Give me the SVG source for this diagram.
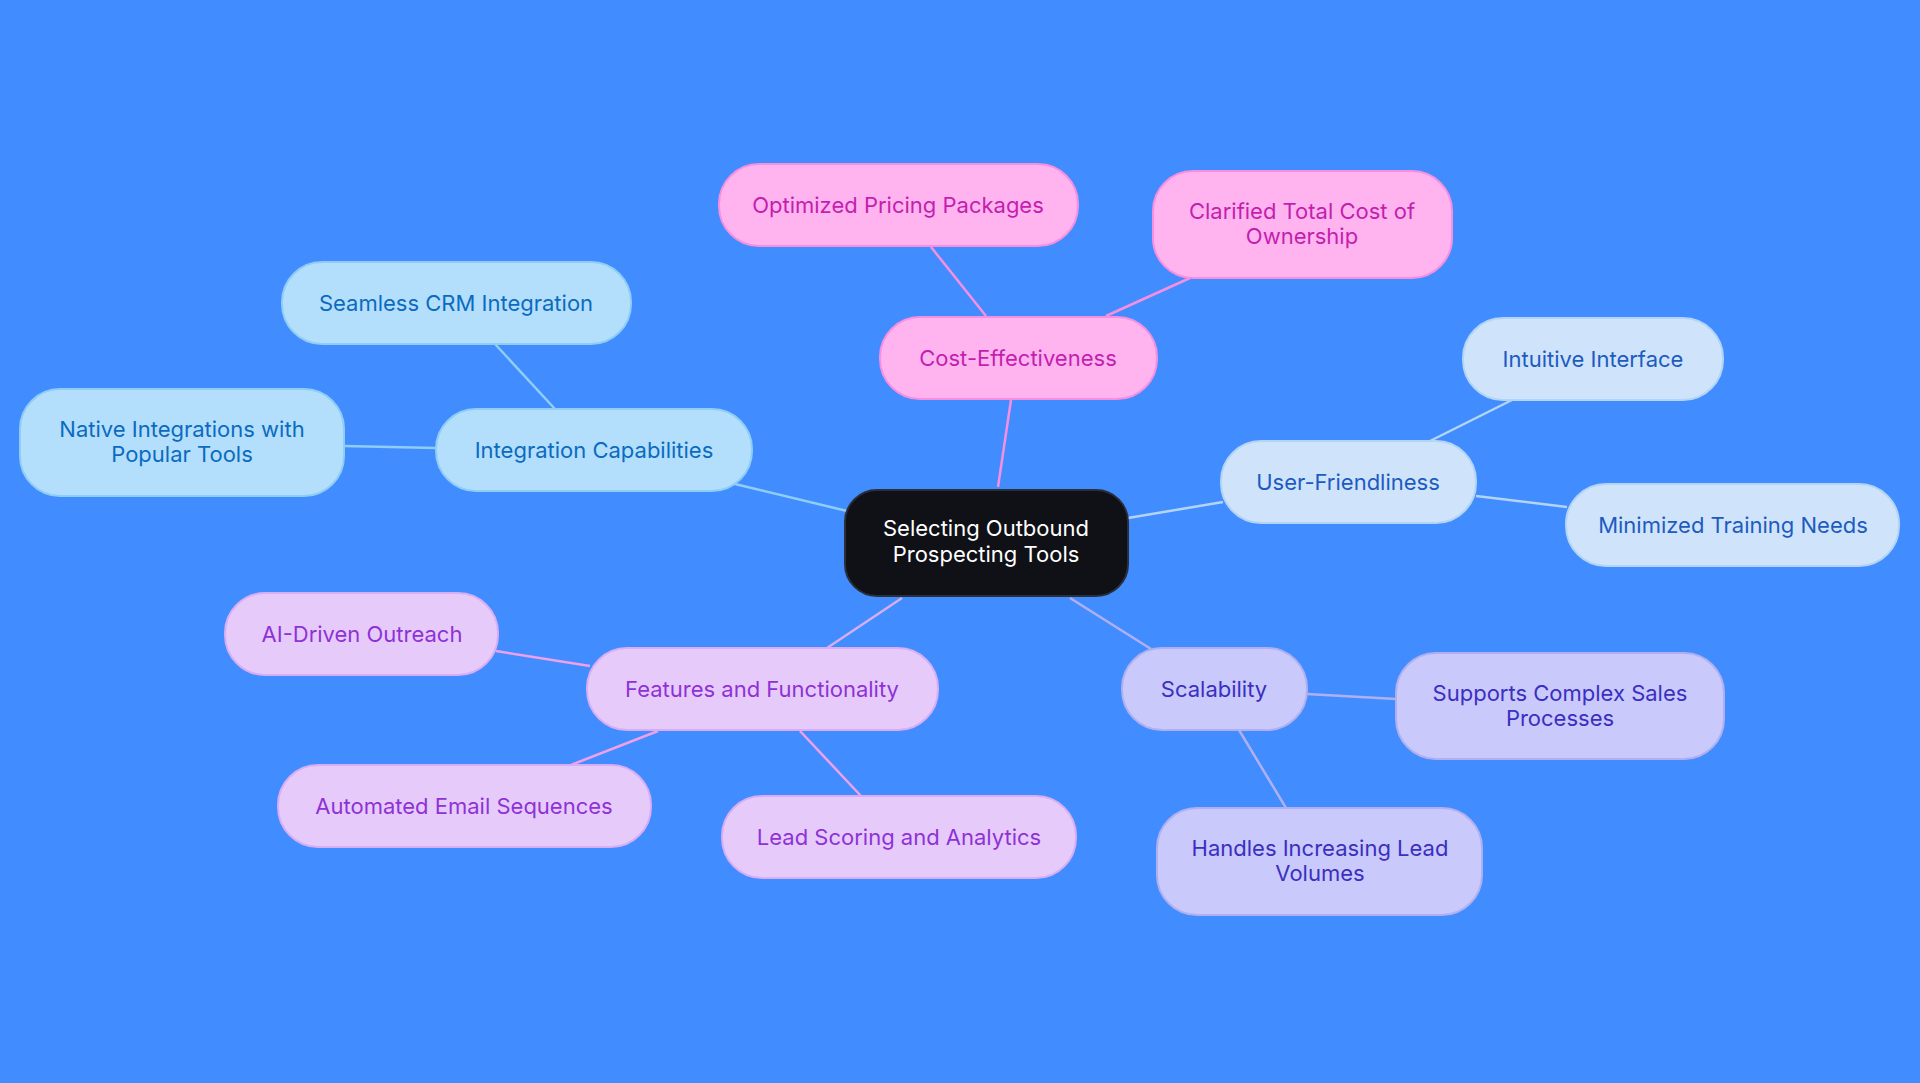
<svg xmlns="http://www.w3.org/2000/svg" width="1920" height="1083" viewBox="0 0 1920 1083">
<style>
text{font-family:Inter,"Noto Sans","Liberation Sans",sans-serif;font-size:22px;text-anchor:middle;dominant-baseline:central}
.pk rect{fill:#ffb3ef;stroke:#f78fe0;stroke-width:2}.pk text{fill:#c31fae}
.bl rect{fill:#b3dffc;stroke:#90cdf4;stroke-width:2}.bl text{fill:#0b6bbf}
.lb rect{fill:#cfe4fb;stroke:#b3d4f5;stroke-width:2}.lb text{fill:#1d5bbf}
.vi rect{fill:#c9c9fb;stroke:#b0b0f0;stroke-width:2}.vi text{fill:#3a2fbf}
.pu rect{fill:#e6cbfa;stroke:#d7aef5;stroke-width:2}.pu text{fill:#8e32d6}
.e line{stroke-width:2.5}
</style>
<rect width="1920" height="1083" fill="#418cff"/>
<g id="connectors" class="e">
<line x1="998" y1="487" x2="1011" y2="400" stroke="#f78fe0"/>
<line x1="986" y1="316" x2="931" y2="247" stroke="#f78fe0"/>
<line x1="1106" y1="316" x2="1190" y2="278" stroke="#f78fe0"/>
<line x1="847" y1="511" x2="735" y2="484" stroke="#90cdf4"/>
<line x1="555" y1="409" x2="495" y2="344" stroke="#90cdf4"/>
<line x1="436" y1="448" x2="344" y2="446" stroke="#90cdf4"/>
<line x1="1128" y1="518" x2="1223" y2="502" stroke="#b3d4f5"/>
<line x1="1430" y1="441" x2="1512" y2="400" stroke="#b3d4f5"/>
<line x1="1476" y1="496" x2="1567" y2="507" stroke="#b3d4f5"/>
<line x1="1070" y1="598" x2="1151" y2="649" stroke="#b0b0f0"/>
<line x1="1307" y1="694" x2="1396" y2="699" stroke="#b0b0f0"/>
<line x1="1239" y1="730" x2="1286" y2="808" stroke="#b0b0f0"/>
<line x1="902" y1="598" x2="827" y2="648" stroke="#d7aef5"/>
<line x1="590" y1="666" x2="496" y2="651" stroke="#f0a0e8"/>
<line x1="658" y1="731" x2="571" y2="765" stroke="#f0a0e8"/>
<line x1="800" y1="731" x2="861" y2="796" stroke="#f0a0e8"/>
</g>
<g id="center"><rect x="845" y="490" width="283" height="106" rx="32" fill="#0f1117" stroke="#2a2f3a" stroke-width="2"/><text x="986" y="528" fill="#fff">Selecting Outbound</text><text x="986" y="554" fill="#fff">Prospecting Tools</text></g>
<g id="cost" class="pk"><rect x="880" y="317" width="277" height="82" rx="40"/><text x="1018" y="358">Cost-Effectiveness</text></g>
<g id="opt" class="pk"><rect x="719" y="164" width="359" height="82" rx="40"/><text x="898" y="205">Optimized Pricing Packages</text></g>
<g id="clar" class="pk"><rect x="1153" y="171" width="299" height="107" rx="40"/><text x="1302" y="211">Clarified Total Cost of</text><text x="1302" y="236">Ownership</text></g>
<g id="integ" class="bl"><rect x="436" y="409" width="316" height="82" rx="40"/><text x="594" y="450">Integration Capabilities</text></g>
<g id="seamless" class="bl"><rect x="282" y="262" width="349" height="82" rx="40"/><text x="456" y="303">Seamless CRM Integration</text></g>
<g id="native" class="bl"><rect x="20" y="389" width="324" height="107" rx="40"/><text x="182" y="429">Native Integrations with</text><text x="182" y="454">Popular Tools</text></g>
<g id="user" class="lb"><rect x="1221" y="441" width="255" height="82" rx="40"/><text x="1348" y="482">User-Friendliness</text></g>
<g id="intuitive" class="lb"><rect x="1463" y="318" width="260" height="82" rx="40"/><text x="1593" y="359">Intuitive Interface</text></g>
<g id="minimized" class="lb"><rect x="1566" y="484" width="333" height="82" rx="40"/><text x="1733" y="525">Minimized Training Needs</text></g>
<g id="scal" class="vi"><rect x="1122" y="648" width="185" height="82" rx="40"/><text x="1214" y="689">Scalability</text></g>
<g id="supports" class="vi"><rect x="1396" y="653" width="328" height="106" rx="40"/><text x="1560" y="693">Supports Complex Sales</text><text x="1560" y="718">Processes</text></g>
<g id="handles" class="vi"><rect x="1157" y="808" width="325" height="107" rx="40"/><text x="1320" y="848">Handles Increasing Lead</text><text x="1320" y="873">Volumes</text></g>
<g id="feat" class="pu"><rect x="587" y="648" width="351" height="82" rx="40"/><text x="762" y="689">Features and Functionality</text></g>
<g id="ai" class="pu"><rect x="225" y="593" width="273" height="82" rx="40"/><text x="362" y="634">AI-Driven Outreach</text></g>
<g id="auto" class="pu"><rect x="278" y="765" width="373" height="82" rx="40"/><text x="464" y="806">Automated Email Sequences</text></g>
<g id="lead" class="pu"><rect x="722" y="796" width="354" height="82" rx="40"/><text x="899" y="837">Lead Scoring and Analytics</text></g>
</svg>
